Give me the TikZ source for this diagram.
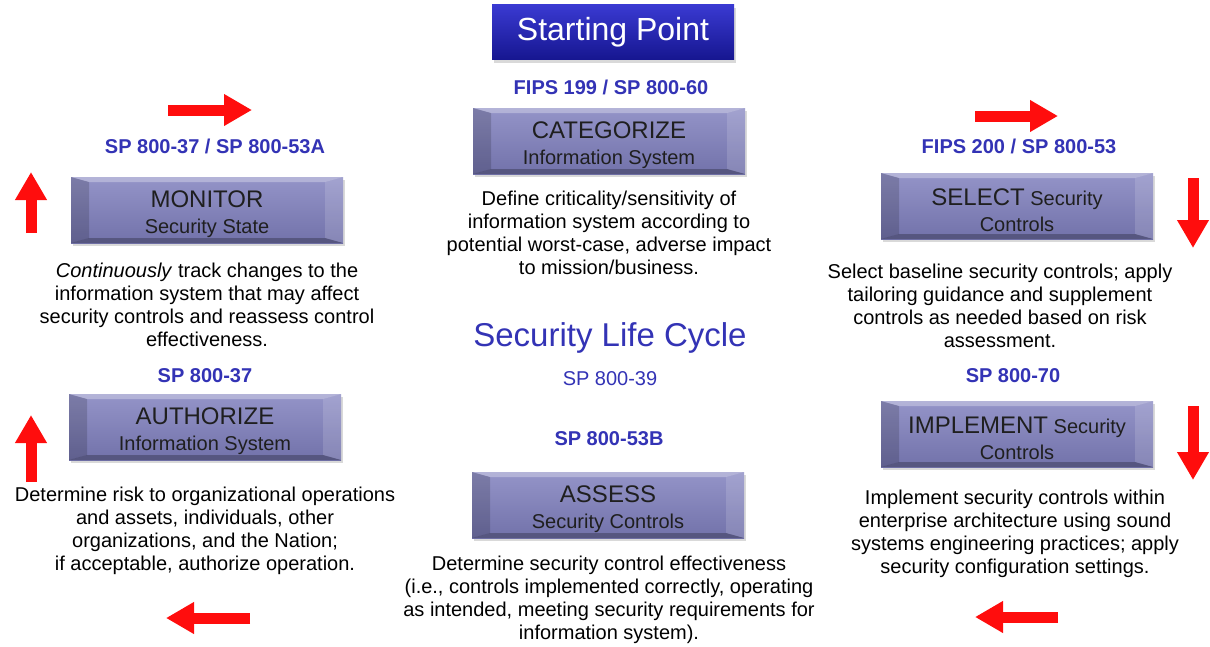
\documentclass[tikz,border=0pt]{standalone}
\usepackage{fontspec}
\setmainfont{Liberation Sans}
\usetikzlibrary{arrows.meta, shadows}

\definecolor{boxtop}{HTML}{9494C8}
\definecolor{boxbot}{HTML}{7272AA}
\definecolor{labelblue}{HTML}{3333B5}
\definecolor{starttop}{HTML}{3A3AD2}
\definecolor{startbot}{HTML}{161690}
\definecolor{arrowred}{HTML}{FF0D0D}
\newcommand{\lift}{\rule{0pt}{25pt}}

\begin{document}
\begin{tikzpicture}[x = 1pt, y = -1pt,
  stage/.style = {minimum width = 272pt, minimum height = 66pt, inner sep = 0pt, align = center,
    top color = boxtop, bottom color = boxbot,
    drop shadow = {shadow xshift = 1.5pt, shadow yshift = -3pt, opacity = 0.3},
    text = black!88, font = \fontsize{20}{26}\selectfont,
    path picture = {
      \fill [white, opacity = 0.3] (path picture bounding box.north west) -- (path picture bounding box.north east)
        -- ([xshift = -18pt, yshift = -5pt] path picture bounding box.north east)
        -- ([xshift = 18pt, yshift = -5pt] path picture bounding box.north west) -- cycle;
      \fill [black, opacity = 0.16] (path picture bounding box.north west)
        -- ([xshift = 18pt, yshift = -5pt] path picture bounding box.north west)
        -- ([xshift = 18pt, yshift = 5pt] path picture bounding box.south west)
        -- (path picture bounding box.south west) -- cycle;
      \fill [white, opacity = 0.14] (path picture bounding box.north east)
        -- ([xshift = -18pt, yshift = -5pt] path picture bounding box.north east)
        -- ([xshift = -18pt, yshift = 5pt] path picture bounding box.south east)
        -- (path picture bounding box.south east) -- cycle;
      \fill [black, opacity = 0.25] (path picture bounding box.south west) -- (path picture bounding box.south east)
        -- ([xshift = -18pt, yshift = 5pt] path picture bounding box.south east)
        -- ([xshift = 18pt, yshift = 5pt] path picture bounding box.south west) -- cycle;
    }},
  std/.style = {text = labelblue, font = \bfseries\fontsize{20}{23}\selectfont, inner sep = 0pt},
  desc/.style = {align = center, font = \fontsize{20}{23}\selectfont, inner sep = 0pt},
  redarrow/.style = {draw = arrowred, line width = 11pt, -{Triangle[width = 30pt, length = 28pt]}}
]
\useasboundingbox (0, 0) rectangle (1210, 646);

% starting point and categorize
\node [minimum width = 242pt, minimum height = 55pt, top color = starttop, bottom color = startbot,
  drop shadow = {shadow xshift = 1.5pt, shadow yshift = -3pt, opacity = 0.3},
  text = white, font = \fontsize{32}{34}\selectfont] (start) at (613, 32) {Starting Point};
\node [std] (stdcat) at (611, 87) {FIPS 199 / SP 800-60};
\node [stage] (categorize) at (609, 141) {\lift{\fontsize{24}{26}\selectfont CATEGORIZE}\\ Information System};
\node [desc] (desccat) at (609, 233) {Define criticality/sensitivity of\\ information system according to\\ potential worst-case, adverse impact\\ to mission/business.};

% select
\node [std] (stdsel) at (1019, 146) {FIPS 200 / SP 800-53};
\node [stage] (select) at (1017, 206) {\lift{\fontsize{24}{26}\selectfont SELECT} Security\\ Controls};
\node [desc] (descsel) at (1000, 306) {Select baseline security controls; apply\\ tailoring guidance and supplement\\ controls as needed based on risk\\ assessment.};

% implement
\node [std] (stdimp) at (1013, 376) {SP 800-70};
\node [stage] (implement) at (1017, 434) {\lift{\fontsize{24}{26}\selectfont IMPLEMENT} Security\\ Controls};
\node [desc] (descimp) at (1015, 534) {Implement security controls within\\ enterprise architecture using sound\\ systems engineering practices; apply\\ security configuration settings.};

% assess
\node [std] (stdass) at (609, 439) {SP 800-53B};
\node [stage] (assess) at (608, 505) {\lift{\fontsize{24}{26}\selectfont ASSESS}\\ Security Controls};
\node [desc] (descass) at (609, 600) {Determine security control effectiveness\\ (i.e., controls implemented correctly, operating\\ as intended, meeting security requirements for\\ information system).};

% authorize
\node [std] (stdauth) at (205, 376) {SP 800-37};
\node [stage] (authorize) at (205, 427) {\lift{\fontsize{24}{26}\selectfont AUTHORIZE}\\ Information System};
\node [desc] (descauth) at (205, 531) {Determine risk to organizational operations\\ and assets, individuals, other\\ organizations, and the Nation;\\ if acceptable, authorize operation.};

% monitor
\node [std] (stdmon) at (215, 146) {SP 800-37 / SP 800-53A};
\node [stage] (monitor) at (207, 210) {\lift{\fontsize{24}{26}\selectfont MONITOR}\\ Security State};
\node [desc] (descmon) at (207, 305) {\textit{Continuously} track changes to the\\ information system that may affect\\ security controls and reassess control\\ effectiveness.};

% centre title
\node [text = labelblue, font = \fontsize{33}{36}\selectfont] (title) at (610, 338) {Security Life Cycle};
\node [text = labelblue, font = \fontsize{20}{23}\selectfont, inner sep = 0pt] (stdlife) at (610, 379) {SP 800-39};

% cycle arrows
\path [redarrow] (168, 110) -- (252, 110);
\path [redarrow] (975, 116) -- (1058, 116);
\path [redarrow] (1193, 178) -- (1193, 248);
\path [redarrow] (1193, 406) -- (1193, 480);
\path [redarrow] (1058, 617) -- (975, 617);
\path [redarrow] (250, 618) -- (166, 618);
\path [redarrow] (31, 482) -- (31, 415);
\path [redarrow] (31, 233) -- (31, 172);
\end{tikzpicture}
\end{document}
